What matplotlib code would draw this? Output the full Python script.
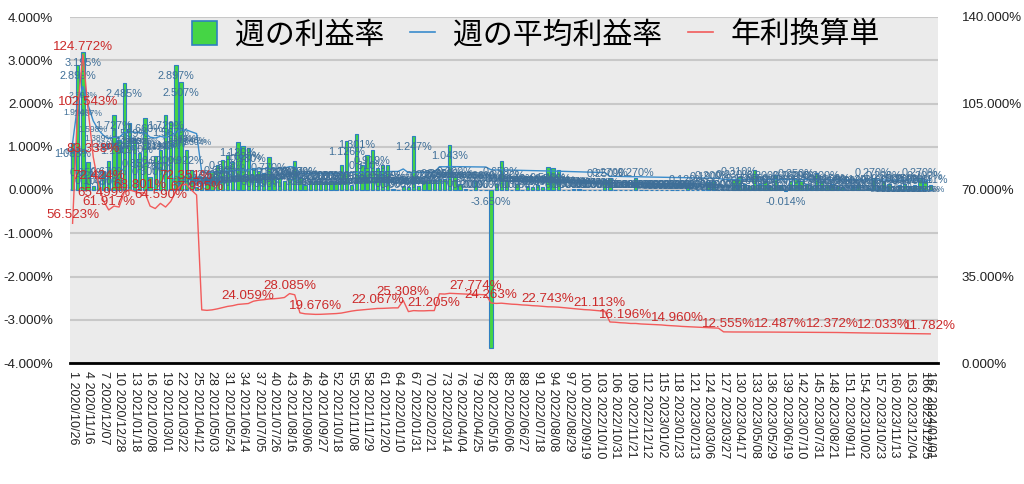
import matplotlib
matplotlib.use("Agg")
import matplotlib.pyplot as plt
from matplotlib.lines import Line2D
from matplotlib.patches import Patch
from matplotlib.ticker import FuncFormatter
import numpy as np
import pandas as pd

plt.rcParams["font.family"] = ["Liberation Sans", "Noto Sans CJK JP", "DejaVu Sans"]

# ── data ─────────────────────────────────────────────────────────────────────
START_DATE = "2020-10-26"

# 週の利益率 (%)
WEEKLY = [
    1.088, 2.899, 3.195, 0.65, 0.10, 0.20, 0.45, 0.67, 1.727, 1.15,
    2.485, 1.559, 1.17, 0.852, 1.66, 0.30, 0.78, 0.92, 1.729, 1.567,
    2.897, 2.507, 0.922, 0.46, 0.08, 0.15, 0.23, 0.42, 0.58, 0.69,
    0.818, 0.65, 1.12, 1.02, 0.98, 0.50, 0.44, 0.39, 0.77, 0.30,
    0.28, 0.20, 0.25, 0.667, 0.30, 0.12, 0.20, 0.20, 0.20, 0.18,
    0.20, 0.18, 0.58, 1.126, 0.12, 1.301, 0.58, 0.81, 0.919, 0.52,
    0.58, 0.589, 0.03, 0.00, 0.10, 0.06, 1.247, 0.10, 0.20, 0.22,
    0.24, 0.25, 0.25, 1.043, 0.30, 0.15, 0.02, 0.00, 0.20, 0.00,
    0.00, -3.650, 0.15, 0.659, 0.20, 0.00, 0.14, 0.00, 0.09, 0.06,
    0.12, 0.08, 0.54, 0.50, 0.46, 0.00, 0.00, 0.03, 0.03, 0.00,
    0.00, 0.00, 0.00, 0.25, 0.27, 0.00, 0.00, 0.00, 0.00, 0.27,
    0.00, 0.00, 0.00, 0.00, 0.00, 0.00, 0.00, 0.00, 0.00, 0.12,
    0.00, 0.00, 0.00, 0.19, 0.20, 0.00, 0.00, 0.00, 0.23, 0.31,
    0.15, 0.10, 0.46, 0.15, 0.20, 0.10, 0.35, 0.12, -0.014, 0.20,
    0.25, 0.20, 0.15, 0.10, 0.40, 0.20, 0.12, 0.15, 0.10, 0.08,
    0.00, 0.10, 0.12, 0.00, 0.05, 0.27, 0.10, 0.20, 0.15, 0.00,
    0.12, 0.15, 0.10, 0.12, 0.27, 0.20, 0.111,
]

# 週の平均利益率 (%)
AVERAGE = [
    1.088, 1.994, 2.393, 1.967, 1.598, 1.389, 1.260, 1.191, 1.221, 1.213,
    1.329, 1.348, 1.335, 1.323, 1.325, 1.221, 1.202, 1.242, 1.213, 1.258,
    1.337, 1.383, 1.391, 1.346, 1.304, 0.413, 0.410, 0.413, 0.421, 0.431,
    0.440, 0.446, 0.456, 0.460, 0.463, 0.481, 0.488, 0.492, 0.498, 0.500,
    0.504, 0.510, 0.540, 0.531, 0.390, 0.383, 0.381, 0.378, 0.379, 0.381,
    0.383, 0.385, 0.388, 0.396, 0.404, 0.410, 0.413, 0.417, 0.421, 0.424,
    0.425, 0.427, 0.429, 0.429, 0.487, 0.400, 0.408, 0.406, 0.406, 0.408,
    0.408, 0.538, 0.537, 0.542, 0.540, 0.538, 0.537, 0.535, 0.534, 0.533,
    0.531, 0.467, 0.463, 0.465, 0.462, 0.458, 0.456, 0.452, 0.450, 0.446,
    0.444, 0.440, 0.437, 0.437, 0.435, 0.431, 0.427, 0.423, 0.419, 0.415,
    0.413, 0.410, 0.406, 0.404, 0.319, 0.317, 0.313, 0.311, 0.308, 0.308,
    0.304, 0.302, 0.300, 0.298, 0.296, 0.292, 0.290, 0.288, 0.285, 0.283,
    0.281, 0.279, 0.277, 0.275, 0.273, 0.271, 0.242, 0.241, 0.241, 0.241,
    0.241, 0.241, 0.241, 0.241, 0.241, 0.241, 0.240, 0.240, 0.240, 0.240,
    0.239, 0.239, 0.239, 0.239, 0.239, 0.238, 0.238, 0.238, 0.237, 0.237,
    0.236, 0.235, 0.235, 0.234, 0.233, 0.233, 0.232, 0.231, 0.231, 0.230,
    0.230, 0.229, 0.228, 0.228, 0.228, 0.227, 0.226,
]

# 年利換算単 (%)
ANNUAL = [
    56.523, 103.7, 124.772, 102.543, 83.338, 72.424, 65.499, 61.917, 63.5, 63.1,
    69.1, 70.1, 69.4, 68.801, 68.9, 63.5, 62.5, 64.590, 63.1, 65.4,
    69.5, 71.9, 72.351, 70.0, 67.995, 21.5, 21.3, 21.5, 21.9, 22.4,
    22.9, 23.2, 23.7, 23.9, 24.059, 25.0, 25.4, 25.6, 25.9, 26.0,
    26.2, 26.5, 28.085, 27.6, 20.3, 19.9, 19.8, 19.676, 19.7, 19.8,
    19.9, 20.0, 20.2, 20.6, 21.0, 21.3, 21.5, 21.7, 21.9, 22.067,
    22.1, 22.2, 22.3, 22.3, 25.308, 20.8, 21.2, 21.1, 21.1, 21.2,
    21.205, 28.0, 27.9, 28.2, 28.1, 28.0, 27.9, 27.8, 27.774, 27.7,
    27.6, 24.263, 24.1, 24.2, 24.0, 23.8, 23.7, 23.5, 23.4, 23.2,
    23.1, 22.9, 22.743, 22.7, 22.6, 22.4, 22.2, 22.0, 21.8, 21.6,
    21.5, 21.3, 21.113, 21.0, 16.6, 16.5, 16.3, 16.196, 16.0, 16.0,
    15.8, 15.7, 15.6, 15.5, 15.4, 15.2, 15.1, 14.960, 14.8, 14.7,
    14.6, 14.5, 14.4, 14.3, 14.2, 14.1, 12.6, 12.555, 12.55, 12.55,
    12.54, 12.53, 12.55, 12.54, 12.53, 12.51, 12.50, 12.487, 12.47, 12.46,
    12.45, 12.44, 12.43, 12.42, 12.41, 12.40, 12.38, 12.372, 12.34, 12.30,
    12.27, 12.24, 12.20, 12.17, 12.13, 12.10, 12.07, 12.033, 12.00, 11.97,
    11.94, 11.91, 11.88, 11.86, 11.83, 11.81, 11.782,
]

# weeks whose annualised label survives the overlap hiding in the original
ANNUAL_LABEL_WEEKS = [1, 3, 4, 5, 6, 7, 8, 14, 18, 23, 25, 35, 43, 48, 60, 65,
                      71, 79, 82, 93, 103, 108, 118, 128, 138, 148, 158, 167]

LEGEND_LABELS = ["週の利益率", "週の平均利益率", "年利換算単"]

# ── style ────────────────────────────────────────────────────────────────────
BAR_FILL = "#45d545"
BAR_EDGE = "#2f7fc0"
AVG_COLOR = "#3a8ccc"
ANN_COLOR = "#f25b5b"
BLUE_TEXT = "#3f6f98"
RED_TEXT = "#cc2a2a"
TICK_TEXT = "#222222"

weeks = np.arange(1, len(WEEKLY) + 1)
dates = pd.date_range(START_DATE, periods=len(WEEKLY), freq="7D")

fig = plt.figure(figsize=(10.24, 4.84), dpi=100)
ax = fig.add_axes([70 / 1024, 1 - 363 / 484, 868 / 1024, 346 / 484])
ax.set_facecolor("#ebebeb")
ax.set_axisbelow(True)

ax.bar(weeks, WEEKLY, width=0.62, color=BAR_FILL, edgecolor=BAR_EDGE,
       linewidth=0.8, zorder=2)
ax.plot(weeks, AVERAGE, color=AVG_COLOR, lw=1.0, zorder=3)

# bar values: tall bars carry the label just inside the top, short ones just above
for w, v in zip(weeks, WEEKLY):
    if v < 0:
        anchor, dy = 0.0, -12
    elif v < 0.35:
        anchor, dy = v, 5
    else:
        anchor, dy = v, -11
    ax.annotate(f"{v:.3f}%", (w, anchor), xytext=(0, dy),
                textcoords="offset pixels", ha="center", va="center",
                fontsize=7.8, color=BLUE_TEXT, zorder=5)
for w, v in zip(weeks, AVERAGE):
    ax.annotate(f"{v:.3f}%", (w, v), xytext=(0, -9),
                textcoords="offset pixels", ha="center", va="center",
                fontsize=6.2, color=BLUE_TEXT, zorder=5)

ax.set_xlim(0.5, len(WEEKLY) + 1.5)
ax.set_ylim(-4, 4)
ax.set_yticks(np.arange(-4, 5, 1))
ax.yaxis.set_major_formatter(FuncFormatter(lambda v, _: f"{v:.3f}%"))
ax.grid(axis="y", color="#c8c8c8", lw=1.5)

tick_weeks = list(range(1, len(WEEKLY) + 1, 3)) + [len(WEEKLY)]
ax.set_xticks(tick_weeks)
ax.set_xticklabels([f"{w} {dates[w - 1]:%Y/%m/%d}" for w in tick_weeks],
                   rotation=-90, ha="center", va="top", fontsize=9,
                   color=TICK_TEXT)
ax.tick_params(axis="x", length=0, pad=6)
ax.tick_params(axis="y", length=0, pad=12, labelsize=9.6, labelcolor=TICK_TEXT)

for side in ("left", "right", "top"):
    ax.spines[side].set_visible(False)
ax.spines["bottom"].set_color("black")
ax.spines["bottom"].set_linewidth(2)

ax2 = ax.twinx()
ax2.plot(weeks, ANNUAL, color=ANN_COLOR, lw=1.0, zorder=4)
for w in ANNUAL_LABEL_WEEKS:
    v = ANNUAL[w - 1]
    ax2.annotate(f"{v:.3f}%", (w, v), xytext=(0, 8),
                 textcoords="offset pixels", ha="center", va="center",
                 fontsize=9.6, color=RED_TEXT, zorder=6)
ax2.set_ylim(0, 140)
ax2.set_yticks(np.arange(0, 141, 35))
ax2.yaxis.set_major_formatter(FuncFormatter(lambda v, _: f"{v:.3f}%"))
ax2.tick_params(axis="y", length=0, pad=17, labelsize=9.6, labelcolor=TICK_TEXT)
for side in ("left", "right", "top", "bottom"):
    ax2.spines[side].set_visible(False)

handles = [
    Patch(facecolor=BAR_FILL, edgecolor=BAR_EDGE, linewidth=1.2),
    Line2D([], [], color=AVG_COLOR, lw=1.2),
    Line2D([], [], color=ANN_COLOR, lw=1.2),
]
fig.legend(handles, LEGEND_LABELS, loc="center", bbox_to_anchor=(536 / 1024, 1 - 35 / 484),
           ncol=3, frameon=False, fontsize=21.5, handlelength=0.85, handleheight=0.9,
           handletextpad=0.6, columnspacing=0.85)

fig.savefig("out.png", dpi=100, facecolor="white")
